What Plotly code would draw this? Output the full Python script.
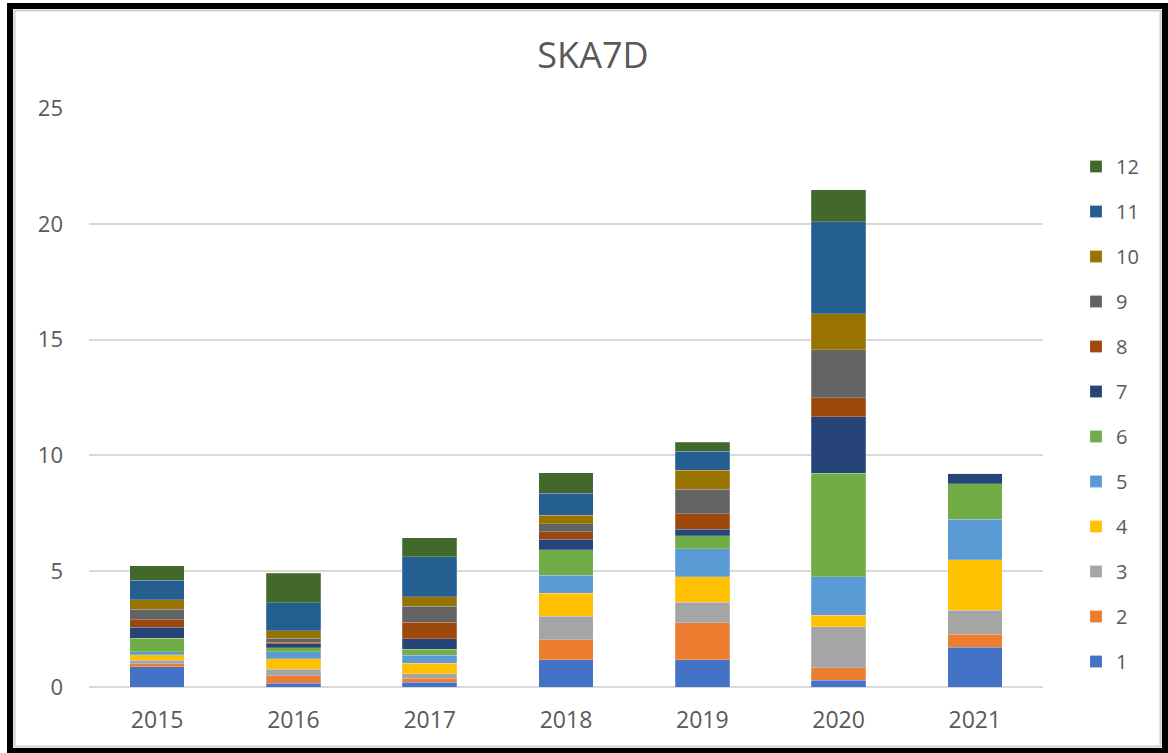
import plotly.graph_objects as go

years = ["2015", "2016", "2017", "2018", "2019", "2020", "2021"]
series_names = ["1", "2", "3", "4", "5", "6", "7", "8", "9", "10", "11", "12"]

s1 = [0.88, 0.17, 0.20, 1.17, 1.17, 0.29, 1.71]
s2 = [0.12, 0.32, 0.17, 0.88, 1.61, 0.55, 0.56]
s3 = [0.16, 0.27, 0.20, 1.01, 0.88, 1.77, 1.05]
s4 = [0.23, 0.45, 0.45, 0.98, 1.09, 0.49, 2.18]
s5 = [0.14, 0.32, 0.35, 0.78, 1.23, 1.67, 1.74]
s6 = [0.57, 0.17, 0.27, 1.10, 0.56, 4.47, 1.54]
s7 = [0.49, 0.17, 0.44, 0.45, 0.27, 2.42, 0.46]
s8 = [0.32, 0.06, 0.72, 0.33, 0.68, 0.84, 0.0]
s9 = [0.44, 0.17, 0.69, 0.35, 1.04, 2.06, 0.0]
s10 = [0.41, 0.33, 0.40, 0.37, 0.83, 1.55, 0.0]
s11 = [0.86, 1.21, 1.73, 0.94, 0.82, 3.97, 0.0]
s12 = [0.62, 1.27, 0.82, 0.89, 0.39, 1.40, 0.0]

series_values = [s1, s2, s3, s4, s5, s6, s7, s8, s9, s10, s11, s12]
colors = ["#4472C4", "#ED7D31", "#A5A5A5", "#FFC000", "#5B9BD5", "#70AD47",
          "#264478", "#9E480E", "#636363", "#997300", "#255E91", "#43682B"]

y_ticks = [0, 5, 10, 15, 20, 25]

W, H = 1168, 753
L, R, T, B = 89, 1043, 108, 687
pw, ph = R - L, B - T

def px(x):
    return (x - L) / pw

def py(y):
    return (B - y) / ph

FONT = "Open Sans"
GREY = "#595959"

fig = go.Figure()
n = len(series_names)
for i, (name, vals, col) in enumerate(zip(series_names, series_values, colors)):
    fig.add_trace(go.Bar(
        x=years, y=vals, name=name, legendgroup=name, legendrank=n - i,
        marker=dict(color=col, line=dict(color="rgba(255,255,255,0.35)", width=0.6)),
    ))

fig.update_layout(
    barmode="stack",
    bargap=0.6,
    width=W, height=H,
    margin=dict(l=L, r=W - R, t=T, b=H - B, autoexpand=False),
    paper_bgcolor="white",
    plot_bgcolor="white",
    font=dict(family=FONT, color=GREY),
    title=dict(text="SKA7D", x=px(593), xref="paper", xanchor="center",
               y=1 - 55 / H, yanchor="middle",
               font=dict(family=FONT, size=36, color=GREY)),
    xaxis=dict(showgrid=False, showline=False, ticks="", zeroline=False,
               tickfont=dict(size=23, color=GREY), ticklabelstandoff=17),
    yaxis=dict(range=[0, 25], tickvals=y_ticks, showgrid=True, gridcolor="#D9D9D9",
               gridwidth=1.5, zeroline=True, zerolinecolor="#D9D9D9", zerolinewidth=1.5,
               showline=False, ticks="", tickfont=dict(size=22, color=GREY),
               ticklabelstandoff=25),
    legend=dict(traceorder="grouped", tracegroupgap=16,
                x=px(1076), xanchor="left", y=py(147), yanchor="top",
                font=dict(size=20, color=GREY), bgcolor="rgba(0,0,0,0)",
                itemwidth=30),
    shapes=[
        dict(type="rect", xref="paper", yref="paper",
             x0=px(10), x1=px(1165), y0=py(751), y1=py(6),
             line=dict(color="black", width=6), fillcolor="rgba(0,0,0,0)", layer="above"),
        dict(type="rect", xref="paper", yref="paper",
             x0=px(14.5), x1=px(1160.5), y0=py(746.5), y1=py(10.5),
             line=dict(color="#D0D0D0", width=2), fillcolor="rgba(0,0,0,0)", layer="above"),
    ],
)

fig.write_html("out.html",
               config={"displayModeBar": False},
               post_script="document.body.style.margin='0';document.body.style.overflow='hidden';")
